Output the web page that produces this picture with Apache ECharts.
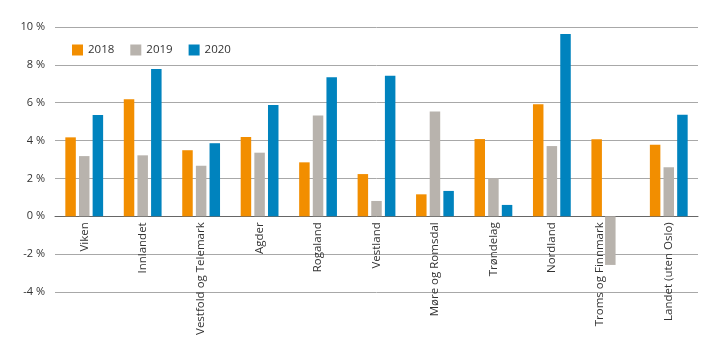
<!DOCTYPE html>
<html><head><meta charset="utf-8">
<script src="https://cdn.jsdelivr.net/npm/echarts@6/dist/echarts.min.js"></script>
<style>html,body{margin:0;padding:0;background:#fff}#c{width:719px;height:341px}</style>
</head><body><div id="c"></div>
<script>
const categories = ["Viken","Innlandet","Vestfold og Telemark","Agder","Rogaland","Vestland","Møre og Romsdal","Trøndelag","Nordland","Troms og Finnmark","Landet (uten Oslo)"];
const s2018 = [4.17,6.18,3.49,4.19,2.85,2.23,1.16,4.08,5.92,4.07,3.78];
const s2019 = [3.18,3.22,2.67,3.36,5.33,0.81,5.53,2.01,3.71,-2.57,2.59];
const s2020 = [5.35,7.78,3.86,5.88,7.34,7.43,1.34,0.60,9.63,null,5.37];
const seriesNames = ["2018","2019","2020"];
const colors = ["#F28E00","#B8B3AD","#0083BE"];
const font = "Open Sans";
const yMin = -4, yMax = 10;
const gridTop = 27, gridBottom = 49, H = 341;
const plotH = H - gridTop - gridBottom;
const zeroOffset = -plotH * (0 - yMin) / (yMax - yMin);
const chart = echarts.init(document.getElementById('c'));
const data = [s2018,s2019,s2020];
// the label of a category with a negative bar is nudged beside the bar
const shifted = new Set(categories.filter((c,i)=> s2019[i] < 0));
chart.setOption({
  animation:false,
  textStyle:{fontFamily:font},
  legend:{left:67,top:39,itemWidth:11,itemHeight:11,itemGap:16,icon:'rect',
    textStyle:{fontFamily:font,fontSize:11.5,color:'#333'},
    data:seriesNames},
  grid:{left:55,right:21,top:gridTop,bottom:gridBottom,containLabel:false,outerBoundsMode:'none'},
  xAxis:{type:'category',data:categories,offset:zeroOffset,
    axisLine:{onZero:false,lineStyle:{color:'#666',width:1}},
    axisTick:{show:false},
    axisLabel:{rotate:90,margin:6,interval:0,fontFamily:font,fontSize:11.5,color:'#333',
      formatter:v=> shifted.has(v) ? '{s|'+v+'}' : v,
      rich:{s:{fontFamily:font,fontSize:11.5,color:'#333',padding:[0,0,22,0]}}}},
  yAxis:{type:'value',min:yMin,max:yMax,interval:2,
    axisLine:{show:false},axisTick:{show:false},
    splitLine:{lineStyle:{color:'#a8a8a8',width:1}},
    axisLabel:{formatter:v=>v+' %',fontFamily:font,fontSize:11,color:'#333',margin:10}},
  series:seriesNames.map((n,i)=>({name:n,type:'bar',data:data[i],
    barWidth:10.5,barGap:'30%',itemStyle:{color:colors[i]}}))
});
</script></body></html>
